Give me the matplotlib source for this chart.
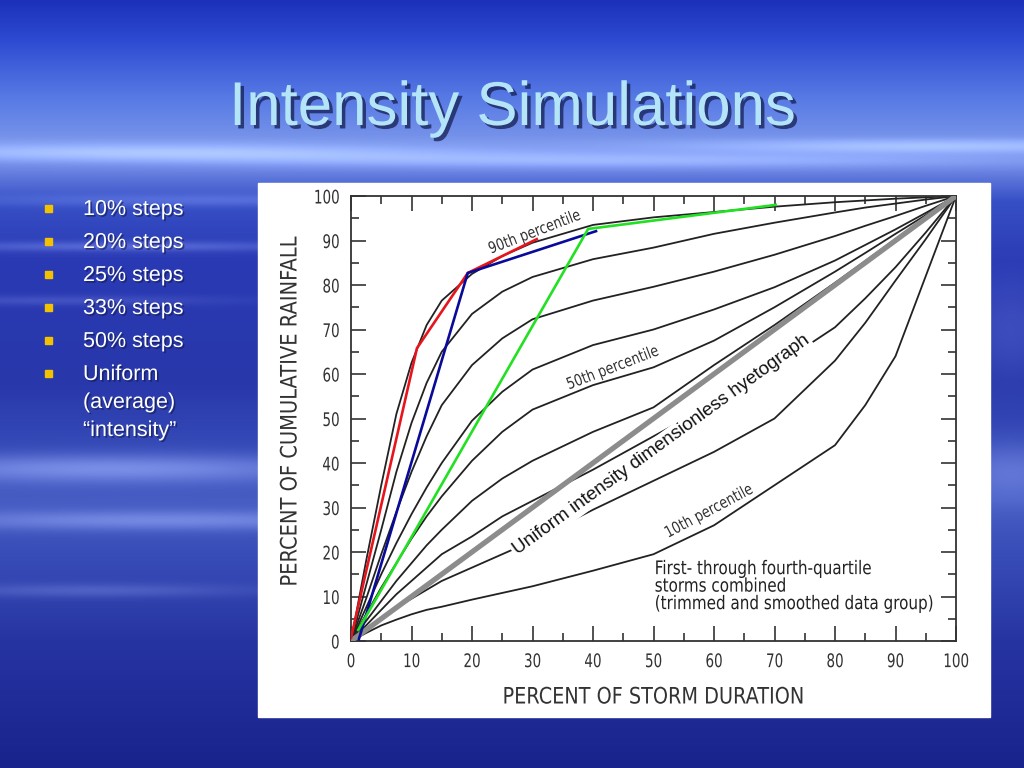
import numpy as np
import matplotlib
matplotlib.use("Agg")
import matplotlib.pyplot as plt
import matplotlib.patheffects as pe
from matplotlib.patches import Rectangle
from matplotlib.transforms import Affine2D

# percent of storm duration (x) and cumulative rainfall (y) for each decile curve
duration = [0, 2.5, 5, 7.5, 10, 12.5, 15, 20, 25, 30, 40, 50, 60, 70, 80, 85, 90, 95, 100]
p90 = [0, 18, 35, 51, 62.5, 71, 76.5, 82.5, 86.5, 89.5, 93.5, 95.2, 96.4, 97.6, 98.6, 99.0, 99.4, 99.7, 100]
p80 = [0, 12.5, 25, 38, 49, 58, 65, 73.5, 78.5, 81.8, 85.8, 88.4, 91.5, 94, 96.3, 97.4, 98.3, 99.2, 100]
p70 = [0, 9.5, 19.5, 29, 38, 46, 53, 62, 68, 72.3, 76.5, 79.6, 83, 86.8, 91, 93.3, 95.5, 97.8, 100]
p60 = [0, 7.5, 15, 22, 28.5, 34.5, 40, 49.5, 56, 61, 66.5, 70, 74.5, 79.5, 85.5, 89, 92.5, 96.2, 100]
p50 = [0, 6, 12, 17.5, 23, 28, 32.5, 40.5, 47, 52, 57.5, 61.5, 67.5, 75, 83, 87.2, 91.5, 95.7, 100]
p40 = [0, 4.5, 9, 13.5, 17.5, 21.5, 25, 31.5, 36.5, 40.5, 47, 52.5, 62, 71, 80.5, 85.4, 90.3, 95.1, 100]
p30 = [0, 3.5, 7, 10.5, 13.5, 16.5, 19.5, 23.5, 28, 31.5, 38.5, 46, 53.5, 61.5, 70.5, 77, 84, 91.8, 100]
p20 = [0, 2.5, 5, 7.5, 9.5, 11.5, 13.5, 16.5, 19.5, 22.5, 29.5, 36, 42.5, 50, 63, 71.5, 81, 90.3, 100]
p10 = [0, 1.8, 3.5, 4.8, 6, 7, 7.7, 9.3, 10.8, 12.3, 15.8, 19.5, 26, 35, 44, 53, 64, 82, 100]
percentile_curves = [p90, p80, p70, p60, p50, p40, p30, p20, p10]

uniform_x = [0, 100]
uniform_y = [0, 100]

# simulated step hyetographs
red_x = [0, 10.9, 19.3, 30.7]
red_y = [0.7, 65.8, 82.7, 90.3]
blue_x = [1.3, 19.3, 40.5]
blue_y = [0.4, 82.7, 92.1]
green_x = [1.2, 39.2, 70.2]
green_y = [2.5, 92.6, 98]

bullets = ["10% steps", "20% steps", "25% steps", "33% steps", "50% steps",
           "Uniform\n(average)\n\u201cintensity\u201d"]

sans = ["Liberation Sans", "DejaVu Sans"]
dark = "#333333"


class Squeeze(pe.AbstractPathEffect):
    """draw text horizontally narrowed, to look like a condensed face"""
    def __init__(self, sx, anchor="left"):
        super().__init__()
        self.sx = sx
        self.anchor = anchor

    def draw_path(self, renderer, gc, tpath, affine, rgbFace=None):
        ext = tpath.get_extents()
        cx = {"left": 0.0, "center": (ext.x0 + ext.x1) / 2, "right": ext.x1}[self.anchor]
        t = Affine2D().translate(-cx, 0).scale(self.sx, 1).translate(cx, 0)
        renderer.draw_path(gc, tpath, t + affine, rgbFace)


W, H = 1024, 768
fig = plt.figure(figsize=(W / 100, H / 100), dpi=100)

# ---- slide background: blue sky with soft clouds
yy = np.arange(H)
xx = np.arange(W)
stops_y = [0, 40, 95, 140, 170, 200, 260, 380, 440, 500, 560, 640, 768]
stops_c = np.array([(28, 48, 185), (45, 75, 210), (85, 120, 228), (120, 148, 234),
                     (105, 130, 225), (55, 80, 198), (42, 58, 180), (40, 55, 170),
                     (52, 72, 182), (70, 92, 195), (55, 75, 182), (38, 52, 162),
                     (25, 35, 140)], dtype=float)
col = np.stack([np.interp(yy, stops_y, stops_c[:, k]) for k in range(3)], axis=1)
bg = np.repeat(col[:, None, :], W, axis=1)
Y, X = np.meshgrid(yy, xx, indexing="ij")
blobs = [(150, 152, 320, 9, 55), (620, 160, 420, 8, 45), (930, 146, 260, 7, 50),
         (120, 246, 200, 5, 40), (60, 300, 160, 5, 25), (110, 468, 230, 14, 60),
         (160, 520, 260, 10, 50), (90, 590, 160, 7, 30), (1010, 470, 60, 30, 35),
         (1010, 330, 40, 50, 20), (200, 200, 250, 6, 30)]
light = np.zeros((H, W))
for cx, cy, sx, sy, amp in blobs:
    light += amp * np.exp(-((X - cx) / sx) ** 2 - ((Y - cy) / sy) ** 2)
bg = bg + light[:, :, None] * np.array([1.0, 1.0, 0.7])
bg = np.clip(bg, 0, 255) / 255.0
bgax = fig.add_axes([0, 0, 1, 1])
bgax.imshow(bg, aspect="auto", interpolation="bilinear")
bgax.axis("off")

# ---- title
fig.text(512 / W, 1 - 125 / H, "Intensity Simulations", ha="center", va="baseline",
         fontsize=44.5, color="#b4e4f7", family=sans,
         path_effects=[pe.withSimplePatchShadow(offset=(2.5, -2.5), shadow_rgbFace="#101848", alpha=0.7)])

# ---- bullet list (wrapped lines of one item sit closer than the items)
shadow = [pe.withSimplePatchShadow(offset=(1.2, -1.2), shadow_rgbFace="#101848", alpha=0.6)]
by = 215
for b in bullets:
    fig.patches.append(Rectangle((45 / W, 1 - (by - 3) / H), 7 / W, 7 / H,
                                 transform=fig.transFigure, color="#f2c200", zorder=3))
    for j, line in enumerate(b.split("\n")):
        fig.text(83 / W, 1 - (by + 28 * j) / H, line, ha="left", va="baseline", fontsize=15.5,
                 color="white", family=sans, path_effects=shadow)
    by += 33

# ---- white panel holding the chart
fig.patches.append(Rectangle((258 / W, 1 - 717 / H), 732 / W, 534 / H,
                             transform=fig.transFigure, color="white", zorder=1))

ax = fig.add_axes([351 / W, 127 / H, 605 / W, 445 / H])
ax.set_zorder(2)
ax.patch.set_alpha(0)

for c in percentile_curves:
    ax.plot(duration, c, color="#222222", lw=1.3, zorder=2, solid_joinstyle="round")
ax.plot(uniform_x, uniform_y, color="#8c8c8c", lw=3.8, zorder=4, solid_capstyle="round")
ax.plot(red_x, red_y, color="#e8141c", lw=1.9, zorder=5)
ax.plot(blue_x, blue_y, color="#0a0a9a", lw=1.9, zorder=5)
ax.plot(green_x, green_y, color="#22e022", lw=1.9, zorder=5)

ax.set_xlim(0, 100)
ax.set_ylim(0, 100)
ax.set_xticks(np.arange(0, 101, 10))
ax.set_yticks(np.arange(0, 101, 10))
ax.set_xticks(np.arange(0, 101, 5), minor=True)
ax.set_yticks(np.arange(0, 101, 5), minor=True)
ax.tick_params(which="both", direction="in", top=True, right=True, color=dark, width=1.2)
ax.tick_params(which="major", length=11, pad=8, labelsize=13.5, labelcolor=dark)
ax.tick_params(which="minor", length=5.5)
for lab in ax.get_xticklabels():
    lab.set_path_effects([Squeeze(0.72, "center")])
for lab in ax.get_yticklabels():
    lab.set_path_effects([Squeeze(0.72, "right")])
for s in ax.spines.values():
    s.set_color(dark)
    s.set_linewidth(1.3)

# in-plot annotations
ax.text(30.4, 91.9, "90th percentile", rotation=21, ha="center", va="center",
        fontsize=11.5, color=dark, zorder=3, path_effects=[Squeeze(0.8, "center")])
ax.text(43.3, 61.4, "50th percentile", rotation=21, ha="center", va="center",
        fontsize=11.5, color=dark, zorder=3, path_effects=[Squeeze(0.8, "center")])
ax.text(59.2, 29.2, "10th percentile", rotation=28, ha="center", va="center",
        fontsize=11.5, color=dark, zorder=3, path_effects=[Squeeze(0.8, "center")])
ax.text(51.3, 44.0, "Uniform intensity dimensionless hyetograph", rotation=36,
        ha="center", va="center", fontsize=13.5, family=sans, color="#111111", zorder=3,
        bbox=dict(facecolor="white", edgecolor="none", pad=1.5))
ax.text(50.2, 18.4, "First- through fourth-quartile\nstorms combined\n(trimmed and smoothed data group)",
        ha="left", va="top", fontsize=13.5, color="#222222", linespacing=0.9, zorder=3,
        path_effects=[Squeeze(0.81, "left")])

fig.text(654 / W, 1 - 697 / H, "PERCENT OF STORM DURATION", ha="center", va="center",
         fontsize=16.3, color=dark, zorder=3, path_effects=[Squeeze(0.85, "center")])
fig.text(290 / W, 1 - 411 / H, "PERCENT OF CUMULATIVE RAINFALL", ha="center", va="center",
         rotation=90, fontsize=16.3, color=dark, zorder=3, path_effects=[Squeeze(0.86, "center")])

fig.savefig("out.png", dpi=100)
